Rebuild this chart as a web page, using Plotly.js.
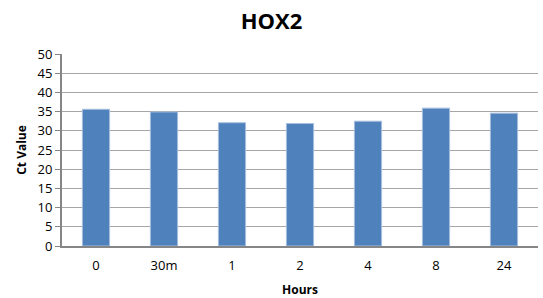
<!DOCTYPE html>
<html><head><meta charset="utf-8">
<script src="https://cdn.plot.ly/plotly-3.0.1.min.js"></script>
<style>html,body{margin:0;padding:0;background:#fff}#c{width:543px;height:298px}</style>
</head><body><div id="c"></div>
<script>
const categories = ["0", "30m", "1", "2", "4", "8", "24"];
const ctValues = [35.6, 34.9, 32.1, 31.9, 32.5, 35.9, 34.6];
const yTicks = [0, 5, 10, 15, 20, 25, 30, 35, 40, 45, 50];

Plotly.newPlot('c', [{
  type: 'bar',
  x: categories,
  y: ctValues,
  marker: {color: '#4F81BD', line: {color: '#A7BFDE', width: 1}},
  hoverinfo: 'none'
}], {
  width: 543, height: 298,
  margin: {l: 62, r: 5, t: 54, b: 52},
  paper_bgcolor: '#fff', plot_bgcolor: '#fff',
  bargap: 0.6,
  showlegend: false,
  font: {family: 'Open Sans, Liberation Sans, sans-serif', size: 13, color: '#000'},
  title: {text: '<b>HOX2</b>', x: 0.5, xref: 'container', xanchor: 'center', y: 0.93, yanchor: 'middle', font: {size: 22, family: 'Open Sans, sans-serif', color: '#000'}},
  xaxis: {
    type: 'category',
    showline: true, linecolor: '#868686', linewidth: 2,
    ticks: '', tickfont: {size: 13}, ticklabelstandoff: 6,
    title: {text: '<b>Hours</b>', font: {size: 12}, standoff: 14}
  },
  yaxis: {
    range: [0, 50], tickvals: yTicks,
    showline: true, linecolor: '#868686', linewidth: 2,
    showgrid: true, gridcolor: '#A6A6A6', gridwidth: 1,
    ticks: 'outside', ticklen: 5, tickcolor: '#868686',
    tickfont: {size: 13},
    zeroline: false,
    title: {text: '<b>Ct Value</b>', font: {size: 12}, standoff: 8}
  }
}, {staticPlot: true});
</script></body></html>
